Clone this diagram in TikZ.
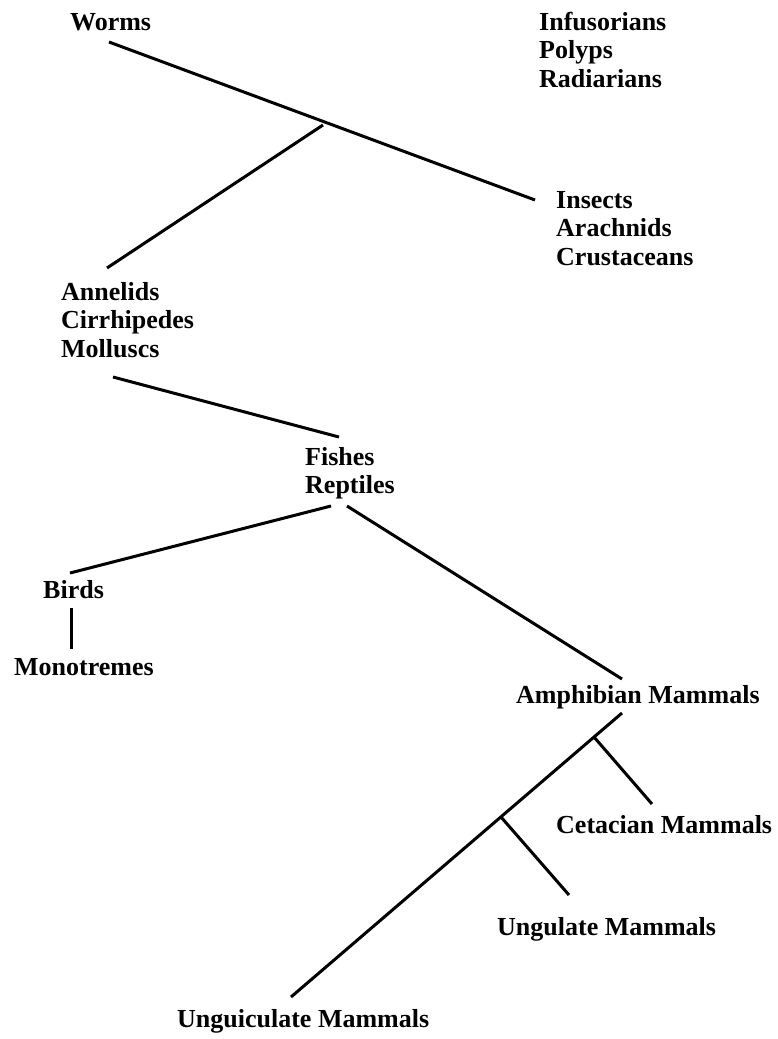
\documentclass[tikz,border=0pt]{standalone}
\usepackage{fontspec}
\setmainfont{Liberation Serif}
\begin{document}
\begin{tikzpicture}[x=1pt,y=-1pt,
  lbl/.style={anchor=base west, inner sep=0pt, font=\fontsize{26}{28.5}\selectfont\bfseries},
  branch/.style={line width=3pt}]
\useasboundingbox[fill=white] (0,0) rectangle (777,1039);
% labels
\node[lbl] (worms) at (70,30) {Worms};
\node[lbl] (infus) at (539,30) {Infusorians};
\node[lbl] (polyps) at (539,58.5) {Polyps};
\node[lbl] (radiar) at (539,87) {Radiarians};
\node[lbl] (insects) at (556,208) {Insects};
\node[lbl] (arachn) at (556,236.5) {Arachnids};
\node[lbl] (crust) at (556,265) {Crustaceans};
\node[lbl] (annel) at (61,300) {Annelids};
\node[lbl] (cirrh) at (61,328.5) {Cirrhipedes};
\node[lbl] (mollus) at (61,357) {Molluscs};
\node[lbl] (fishes) at (305,465) {Fishes};
\node[lbl] (reptil) at (305,493.5) {Reptiles};
\node[lbl] (birds) at (43,598) {Birds};
\node[lbl] (monot) at (14,675) {Monotremes};
\node[lbl] (amphib) at (516,703) {Amphibian Mammals};
\node[lbl] (cetac) at (556,833) {Cetacian Mammals};
\node[lbl] (ungul) at (497,935) {Ungulate Mammals};
\node[lbl] (unguic) at (177,1027) {Unguiculate Mammals};
% connector ends
\coordinate (wA) at (109,42);
\coordinate (wB) at (535,200);
\coordinate (aA) at (323,125);
\coordinate (aB) at (107,268);
\coordinate (mA) at (113,377);
\coordinate (mB) at (339,437);
\coordinate (rA) at (331,506);
\coordinate (rB) at (70,573);
\coordinate (rC) at (347,506);
\coordinate (rD) at (622,679);
\coordinate (bA) at (71.5,608);
\coordinate (bB) at (71.5,649);
\coordinate (pA) at (622,713);
\coordinate (pB) at (291,997);
\coordinate (cA) at (594,737);
\coordinate (cB) at (652,804);
\coordinate (uA) at (501,817);
\coordinate (uB) at (569,895);
% connectors
\draw[branch] (wA) -- (wB);
\draw[branch] (aA) -- (aB);
\draw[branch] (mA) -- (mB);
\draw[branch] (rA) -- (rB);
\draw[branch] (rC) -- (rD);
\draw[branch] (bA) -- (bB);
\draw[branch] (pA) -- (pB);
\draw[branch] (cA) -- (cB);
\draw[branch] (uA) -- (uB);
\end{tikzpicture}
\end{document}
